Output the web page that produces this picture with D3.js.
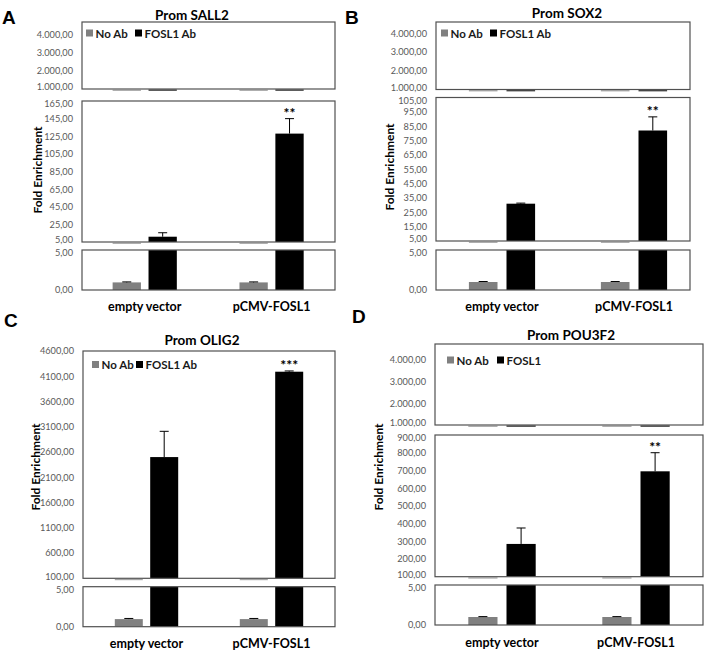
<!DOCTYPE html>
<html>
<head>
<meta charset="utf-8">
<script src="https://cdn.jsdelivr.net/npm/d3@7"></script>
<style>
  html, body { margin: 0; padding: 0; background: #fff; }
  svg { display: block; }
</style>
</head>
<body>
<svg id="chart" width="708" height="655"></svg>
<script>
// ---------------- DATA ----------------
const categories = ["empty vector", "pCMV-FOSL1"];
const seriesKeys = ["noAb", "fosl1"];
const legendLabelsABC = ["No Ab", "FOSL1 Ab"];
const legendLabelsD = ["No Ab", "FOSL1"];

// Panel A – Prom SALL2
const sall2NoAb = [0.95, 0.95];
const sall2NoAbErr = [0.06, 0.06];
const sall2Fosl1 = [11, 128];
const sall2Fosl1Err = [4.5, 17];
const sall2Sig = ["", "**"];

// Panel B – Prom SOX2
const sox2NoAb = [1.0, 1.0];
const sox2NoAbErr = [0.06, 0.06];
const sox2Fosl1 = [31, 82];
const sox2Fosl1Err = [0.4, 9.5];
const sox2Sig = ["", "**"];

// Panel C – Prom OLIG2
const olig2NoAb = [0.95, 0.95];
const olig2NoAbErr = [0.08, 0.08];
const olig2Fosl1 = [2500, 4190];
const olig2Fosl1Err = [510, 15];
const olig2Sig = ["", "***"];

// Panel D – Prom POU3F2
const pou3f2NoAb = [1.0, 1.0];
const pou3f2NoAbErr = [0.05, 0.05];
const pou3f2Fosl1 = [285, 695];
const pou3f2Fosl1Err = [90, 105];
const pou3f2Sig = ["", "**"];

// Axis ranges and tick values
const domainTopA = [1000, 4700];
const domainTopB = [1000, 4600];
const domainTopD = [1000, 4700];
const ticksTop = [1000, 2000, 3000, 4000];
const domainMidA = [5, 165];
const ticksMidA = [5, 25, 45, 65, 85, 105, 125, 145, 165];
const domainMidB = [5, 105];
const ticksMidB = [5, 15, 25, 35, 45, 55, 65, 75, 85, 95, 105];
const domainMainC = [100, 4600];
const ticksMainC = [100, 600, 1100, 1600, 2100, 2600, 3100, 3600, 4100, 4600];
const domainMidD = [100, 900];
const ticksMidD = [100, 200, 300, 400, 500, 600, 700, 800, 900];
const domainBottom = [0, 5];
const ticksBottom = [0, 5];

// ---------------- STYLE / LAYOUT ----------------
const COLORS = { noAb: "#808080", fosl1: "#000000" };
const BORDER = "#505050";
const TICK_COLOR = "#595959";
const FONT = "Lato, 'Open Sans', sans-serif";

const locDot = d3.formatLocale({ decimal: ",", thousands: ".", grouping: [3], currency: ["", ""] });
const fmtGrouped = locDot.format(",.2f");
const fmtPlain = locDot.format(".2f");

const panels = [
  {
    letter: "A", letterPos: [2, 24], title: "Prom SALL2", titlePos: [192, 20],
    left: 82, right: 335, xRange: [81.3, 335], barW: 28.3, gap: 7.6,
    noAb: sall2NoAb, noAbErr: sall2NoAbErr, fosl1: sall2Fosl1, fosl1Err: sall2Fosl1Err, sig: sall2Sig,
    boxes: [
      { y0: 22, y1: 89, domain: domainTopA, ticks: ticksTop, fmt: fmtGrouped },
      { y0: 101, y1: 242, domain: domainMidA, ticks: ticksMidA, fmt: fmtGrouped },
      { y0: 250, y1: 290, domain: domainBottom, ticks: ticksBottom, fmt: fmtGrouped }
    ],
    sigBox: 1, yLabelPos: [37, 170], catY: 311,
    legend: { labels: legendLabelsABC, xs: [86, 135], y: 33 }
  },
  {
    letter: "B", letterPos: [345, 24], title: "Prom SOX2", titlePos: [567, 18],
    left: 436, right: 690, xRange: [436, 700], barW: 28.6, gap: 9,
    noAb: sox2NoAb, noAbErr: sox2NoAbErr, fosl1: sox2Fosl1, fosl1Err: sox2Fosl1Err, sig: sox2Sig,
    boxes: [
      { y0: 22, y1: 89.5, domain: domainTopB, ticks: ticksTop, fmt: fmtGrouped },
      { y0: 97.5, y1: 241, domain: domainMidB, ticks: ticksMidB, fmt: fmtGrouped },
      { y0: 250, y1: 290, domain: domainBottom, ticks: ticksBottom, fmt: fmtGrouped }
    ],
    sigBox: 1, yLabelPos: [389, 167], catY: 311,
    legend: { labels: legendLabelsABC, xs: [441, 490], y: 33 }
  },
  {
    letter: "C", letterPos: [4, 327], title: "Prom OLIG2", titlePos: [202, 345],
    left: 83, right: 335, xRange: [84, 334], barW: 28, gap: 7.4,
    noAb: olig2NoAb, noAbErr: olig2NoAbErr, fosl1: olig2Fosl1, fosl1Err: olig2Fosl1Err, sig: olig2Sig,
    boxes: [
      { y0: 351, y1: 578.3, domain: domainMainC, ticks: ticksMainC, fmt: fmtPlain },
      { y0: 586.7, y1: 626.7, domain: domainBottom, ticks: ticksBottom, fmt: fmtGrouped }
    ],
    sigBox: 0, yLabelPos: [35, 467], catY: 647.5,
    legend: { labels: legendLabelsABC, xs: [92, 136], y: 364.5 }
  },
  {
    letter: "D", letterPos: [352, 323], title: "Prom POU3F2", titlePos: [571, 340],
    left: 435, right: 703, xRange: [435, 703], barW: 29.2, gap: 9,
    noAb: pou3f2NoAb, noAbErr: pou3f2NoAbErr, fosl1: pou3f2Fosl1, fosl1Err: pou3f2Fosl1Err, sig: pou3f2Sig,
    boxes: [
      { y0: 344, y1: 425, domain: domainTopD, ticks: ticksTop, fmt: fmtGrouped },
      { y0: 435, y1: 576.7, domain: domainMidD, ticks: ticksMidD, fmt: fmtGrouped },
      { y0: 585, y1: 625, domain: domainBottom, ticks: ticksBottom, fmt: fmtGrouped }
    ],
    sigBox: 1, yLabelPos: [378, 467], catY: 647,
    legend: { labels: legendLabelsD, xs: [447, 497], y: 360 }
  }
];

// ---------------- DRAW ----------------
const svg = d3.select("#chart");
let clipId = 0;

panels.forEach(p => {
  const g = svg.append("g");

  const x = d3.scaleBand().domain(categories).range(p.xRange).paddingInner(0).paddingOuter(0);
  const half = p.barW + p.gap / 2;
  const xs = d3.scaleBand().domain(seriesKeys).range([-half, half])
    .paddingInner(p.gap / (p.barW + p.gap)).paddingOuter(0);

  const rows = categories.map((c, i) => ({
    cat: c,
    bars: [
      { key: "noAb", value: p.noAb[i], err: p.noAbErr[i] },
      { key: "fosl1", value: p.fosl1[i], err: p.fosl1Err[i] }
    ],
    sig: p.sig[i]
  }));
  const flat = rows.flatMap(r => r.bars.map(b => Object.assign({ cat: r.cat }, b)));
  const barX = d => x(d.cat) + x.bandwidth() / 2 + xs(d.key);
  const nBoxes = p.boxes.length;

  p.boxes.forEach((b, bi) => {
    const y = d3.scaleLinear().domain(b.domain).range([b.y1, b.y0]);
    const id = "clip" + (clipId++);
    g.append("clipPath").attr("id", id).append("rect")
      .attr("x", p.left).attr("y", b.y0).attr("width", p.right - p.left).attr("height", b.y1 - b.y0);

    const inner = g.append("g").attr("clip-path", `url(#${id})`);
    const clampV = v => Math.min(Math.max(v, b.domain[0]), b.domain[1] * 2);

    // bars
    inner.selectAll("rect.bar").data(flat).join("rect")
      .attr("class", "bar")
      .attr("x", barX)
      .attr("width", xs.bandwidth())
      .attr("y", d => y(clampV(d.value)))
      .attr("height", d => Math.max(0, y(b.domain[0]) - y(clampV(d.value))))
      .attr("fill", d => COLORS[d.key]);

    // error bars (positive only)
    const eb = inner.selectAll("g.err").data(flat.filter(d => d.value >= b.domain[0] && d.value <= b.domain[1]))
      .join("g").attr("class", "err");
    eb.append("line")
      .attr("x1", d => barX(d) + xs.bandwidth() / 2).attr("x2", d => barX(d) + xs.bandwidth() / 2)
      .attr("y1", d => y(d.value)).attr("y2", d => y(d.value + d.err))
      .attr("stroke", "#000").attr("stroke-width", 1);
    eb.append("line")
      .attr("x1", d => barX(d) + xs.bandwidth() / 2 - 4.5).attr("x2", d => barX(d) + xs.bandwidth() / 2 + 4.5)
      .attr("y1", d => y(d.value + d.err)).attr("y2", d => y(d.value + d.err))
      .attr("stroke", "#000").attr("stroke-width", 1);

    // border
    g.append("rect")
      .attr("x", p.left).attr("y", b.y0).attr("width", p.right - p.left).attr("height", b.y1 - b.y0)
      .attr("fill", "none").attr("stroke", BORDER).attr("stroke-width", 1.2);

    // zero-height bars below the visible range leave a thin mark under the border
    if (bi < nBoxes - 1) {
      g.selectAll(null).data(flat.filter(d => d.value < b.domain[0])).join("line")
        .attr("x1", barX).attr("x2", d => barX(d) + xs.bandwidth())
        .attr("y1", b.y1 + 1.2).attr("y2", b.y1 + 1.2)
        .attr("stroke", d => COLORS[d.key]).attr("stroke-width", 1.4).attr("opacity", 0.7);
    }

    // axis
    const ax = g.append("g").attr("transform", `translate(${p.left},0)`)
      .call(d3.axisLeft(y).tickValues(b.ticks).tickSize(0).tickPadding(9).tickFormat(b.fmt));
    ax.select(".domain").remove();
    ax.selectAll("text").attr("fill", TICK_COLOR).style("font-family", FONT).style("font-size", "9.2px");
    // nudge boundary labels apart where two boxes meet
    ax.selectAll(".tick").filter(v => v === b.domain[0] && bi < nBoxes - 1)
      .select("text").attr("dy", "0.1em");
    ax.selectAll(".tick").filter(v => v === d3.max(b.ticks) && bi > 0 && d3.max(b.ticks) === b.domain[1])
      .select("text").attr("dy", "0.62em");

    // significance stars
    if (bi === p.sigBox) {
      g.selectAll(null).data(rows.filter(r => r.sig)).join("text")
        .attr("x", r => x(r.cat) + x.bandwidth() / 2 + xs("fosl1") + xs.bandwidth() / 2)
        .attr("y", r => y(r.bars[1].value + r.bars[1].err) - 1)
        .attr("text-anchor", "middle")
        .style("font-family", FONT).style("font-size", "14px").style("font-weight", "700")
        .attr("fill", "#000")
        .text(r => r.sig);
    }
  });

  // legend
  const lg = g.append("g");
  p.legend.labels.forEach((lab, i) => {
    lg.append("rect").attr("x", p.legend.xs[i]).attr("y", p.legend.y - 3.5)
      .attr("width", 7).attr("height", 7).attr("fill", COLORS[seriesKeys[i]]);
    lg.append("text").attr("x", p.legend.xs[i] + 9.5).attr("y", p.legend.y)
      .attr("dominant-baseline", "central")
      .style("font-family", FONT).style("font-size", "11.5px").style("font-weight", "700")
      .attr("fill", "#1a1a1a").text(lab);
  });

  // category labels
  g.selectAll(null).data(categories).join("text")
    .attr("x", c => x(c) + x.bandwidth() / 2).attr("y", p.catY)
    .attr("text-anchor", "middle")
    .style("font-family", FONT).style("font-size", "12.5px").style("font-weight", "700")
    .attr("fill", "#000").text(c => c);

  // y label
  g.append("text")
    .attr("transform", `translate(${p.yLabelPos[0]},${p.yLabelPos[1]}) rotate(-90)`)
    .attr("text-anchor", "middle").attr("dominant-baseline", "central")
    .style("font-family", FONT).style("font-size", "12px").style("font-weight", "700")
    .attr("fill", "#000").text("Fold Enrichment");

  // title
  g.append("text").attr("x", p.titlePos[0]).attr("y", p.titlePos[1])
    .attr("text-anchor", "middle")
    .style("font-family", FONT).style("font-size", "13.5px").style("font-weight", "700")
    .attr("fill", "#000").text(p.title);

  // panel letter
  g.append("text").attr("x", p.letterPos[0]).attr("y", p.letterPos[1])
    .style("font-family", "'Liberation Sans', Arial, sans-serif").style("font-size", "19px").style("font-weight", "700")
    .attr("fill", "#000").text(p.letter);
});
</script>
</body>
</html>
